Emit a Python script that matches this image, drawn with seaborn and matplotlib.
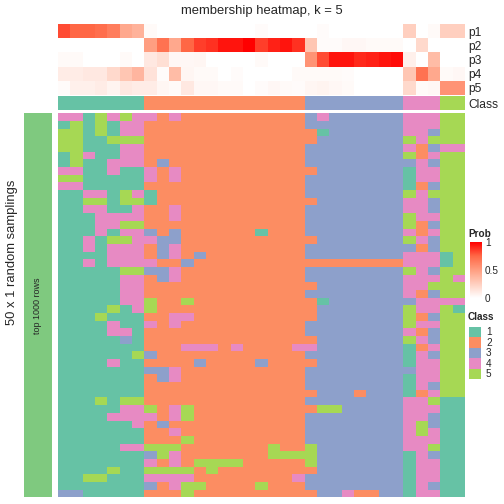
import numpy as np
import pandas as pd
import seaborn as sns
import matplotlib
matplotlib.use("Agg")
import matplotlib.pyplot as plt
from matplotlib.colors import ListedColormap, LinearSegmentedColormap
from matplotlib.patches import Rectangle

# ---------------- data ----------------
prob_labels = ["p1", "p2", "p3", "p4", "p5"]
p1 = [0.82, 0.75, 0.75, 0.72, 0.65, 0.45, 0.40, 0.03, 0, 0, 0, 0, 0, 0, 0, 0, 0.02, 0, 0, 0,
      0, 0.02, 0, 0, 0, 0, 0, 0, 0.25, 0, 0.03, 0.25, 0.25]
p2 = [0, 0, 0, 0, 0, 0, 0, 0.50, 0.70, 0.45, 0.75, 0.85, 0.88, 0.95, 0.95, 1.0, 0.85, 0.92, 0.95, 0.88,
      0.30, 0.02, 0.02, 0.04, 0.04, 0.03, 0.03, 0.03, 0, 0.20, 0, 0, 0]
p3 = [0.03, 0.03, 0, 0, 0, 0.03, 0, 0.12, 0.17, 0.04, 0.04, 0.05, 0, 0, 0, 0, 0.03, 0, 0, 0,
      0.55, 0.82, 0.95, 0.95, 0.90, 0.92, 0.95, 0.97, 0.08, 0, 0.35, 0, 0]
p4 = [0.10, 0.10, 0.12, 0.12, 0.20, 0.30, 0.38, 0.15, 0.02, 0.35, 0.05, 0.03, 0.03, 0, 0.02, 0, 0, 0, 0, 0.03,
      0.03, 0.03, 0.03, 0.02, 0, 0, 0, 0, 0.30, 0.70, 0.45, 0.03, 0.04]
p5 = [0.02, 0.08, 0.08, 0.10, 0.06, 0.12, 0.10, 0.10, 0.05, 0.03, 0.12, 0.04, 0.04, 0.03, 0.03, 0, 0.02, 0.04, 0.03, 0.02,
      0.05, 0.06, 0.04, 0.03, 0, 0, 0, 0, 0.20, 0.03, 0.04, 0.55, 0.55]

class_row = [1] * 7 + [2] * 13 + [3] * 8 + [4] * 3 + [5] * 2

samplings = [
    "4415454424" "22222222" "223433333344455",
    "1515144222" "22222222" "223333333344455",
    "5515144222" "22222222" "222133333344355",
    "5511555222" "22222222" "222333333354555",
    "5511144222" "22222222" "223333333342344",
    "1541144222" "22222222" "223333333352455",
    "1511444232" "22222222" "223333333334355",
    "4411411424" "22222222" "222333333314455",
    "5511111424" "22222222" "223333333314455",
    "4411111222" "22222222" "223333333312355",
    "1144154122" "22222222" "223333333354555",
    "1155155122" "22222222" "222333333344355",
    "1144114224" "22222222" "223333333344355",
    "1114444224" "22222222" "223333333354455",
    "1114455222" "22222222" "223333333352355",
    "1114144323" "22222212" "223333333342455",
    "1141554433" "22222222" "222333333354355",
    "1141444234" "22222222" "223333333332355",
    "1111444234" "23222222" "223333333344415",
    "1141444422" "32222222" "222222222244415",
    "1111155334" "22222222" "223333333354355",
    "1111144234" "22222222" "223333333344454",
    "1111144222" "22222222" "222333333344555",
    "1111144222" "22222222" "223333333342355",
    "1111144522" "52222222" "222133333334444",
    "1111514522" "22222222" "222333333354451",
    "1115111224" "42222222" "222333333352355",
    "1111411424" "22222222" "223333333354455",
    "1111441222" "22222222" "223333333342355",
    "1111131222" "22222222" "222333333354355",
    "1111111222" "44424222" "244333333312455",
    "1111115322" "22222222" "223333333314355",
    "1111411222" "23222232" "222333333314455",
    "1111111334" "22222222" "223333333334455",
    "1111111234" "22222222" "223333333314455",
    "1111111222" "22222222" "223333333314355",
    "1111111222" "22222222" "222333233312455",
    "1115155222" "22222222" "223333333344511",
    "1111144524" "52222222" "222553333344411",
    "1111444424" "52222222" "223333333344311",
    "1111114232" "22222222" "223333333345311",
    "1111111224" "22222222" "223333333345411",
    "1111111222" "52222222" "223333333344411",
    "1111144555" "22222225" "225333333344511",
    "1111111354" "22222225" "555333333314311",
    "1111111424" "25555222" "225333333314411",
    "1111511555" "52522222" "222333333314411",
    "1155111444" "42222222" "243333333314411",
    "1111111324" "55222252" "223333333314311",
    "3311111222" "52222222" "222334223314411",
]

class_names = ["1", "2", "3", "4", "5"]
class_colors = ["#66C2A5", "#FC8D62", "#8DA0CB", "#E78AC3", "#A6D854"]
left_label = "top 1000 rows"
left_color = "#7FC97F"
row_title = "50 x 1 random samplings"
title = "membership heatmap, k = 5"
prob_ticks = [0, 0.5, 1]

# ---------------- build ----------------
sns.set_style("white")
plt.rcParams["font.family"] = ["Liberation Sans", "DejaVu Sans"]

W = H = 504
fig = plt.figure(figsize=(7, 7), dpi=72)


def rect(l, t, w, h):
    return [l / W, 1 - (t + h) / H, w / W, h / H]


prob_df = pd.DataFrame([p1, p2, p3, p4, p5], index=prob_labels)
main_mat = np.array([[int(c) for c in s] for s in samplings])
cls_df = pd.DataFrame([class_row], index=["Class"])

prob_cmap = LinearSegmentedColormap.from_list(
    "prob", [(0, "#FFFFFF"), (0.25, "#FFCFBF"), (0.5, "#FF9E81"), (0.75, "#FF6846"), (1, "#FF0000")])
cls_cmap = ListedColormap(class_colors)

HX, HW = 58, 407
ax_prob = fig.add_axes(rect(HX, 24, HW, 71))
ax_cls = fig.add_axes(rect(HX, 96, HW, 14))
ax_main = fig.add_axes(rect(HX, 113.3, HW, 384))
ax_left = fig.add_axes(rect(24, 113.3, 28, 384))
cax = fig.add_axes(rect(470, 242, 12, 56))

sns.heatmap(prob_df, ax=ax_prob, cmap=prob_cmap, vmin=0, vmax=1, cbar=True, cbar_ax=cax,
            cbar_kws={"ticks": prob_ticks}, xticklabels=False, yticklabels=True)
ax_prob.yaxis.tick_right()
ax_prob.tick_params(axis="y", length=0, pad=3, labelsize=12, labelrotation=0)

sns.heatmap(cls_df, ax=ax_cls, cmap=cls_cmap, vmin=0.5, vmax=5.5, cbar=False,
            xticklabels=False, yticklabels=True)
ax_cls.yaxis.tick_right()
ax_cls.tick_params(axis="y", length=0, pad=3, labelsize=12, labelrotation=0)

sns.heatmap(main_mat, ax=ax_main, cmap=cls_cmap, vmin=0.5, vmax=5.5, cbar=False,
            xticklabels=False, yticklabels=False)

sns.heatmap(np.zeros((1, 1)), ax=ax_left, cmap=ListedColormap([left_color]), cbar=False,
            xticklabels=False, yticklabels=False)
ax_left.text(0.5, 0.5, left_label, rotation=90, ha="center", va="center", fontsize=9,
             transform=ax_left.transAxes)

# colorbar styling
cbar = ax_prob.collections[0].colorbar
cbar.outline.set_visible(False)
cax.yaxis.set_ticks_position("both")
cax.tick_params(axis="y", direction="in", length=2.5, width=0.8, color="white",
                labelsize=10, pad=3, labelleft=False, labelright=True)
cax.set_yticklabels(["0", "0.5", "1"])

# texts
fig.text(262 / W, 1 - 11 / H, title, ha="center", va="center", fontsize=13)
fig.text(12 / W, 1 - 252 / H, row_title, ha="center", va="center", rotation=90, fontsize=13)

# legend
leg = fig.add_axes([0, 0, 1, 1])
leg.set_xlim(0, W)
leg.set_ylim(H, 0)
leg.axis("off")
leg.patch.set_alpha(0)
leg.text(468, 234, "Prob", fontsize=10, fontweight="bold", ha="left", va="center")
leg.text(468, 317, "Class", fontsize=10, fontweight="bold", ha="left", va="center")
for i, (nm, col) in enumerate(zip(class_names, class_colors)):
    y0 = 327 + i * 10.4
    leg.add_patch(Rectangle((469, y0), 12, 10.4, facecolor=col, edgecolor="none"))
    leg.text(486, y0 + 5.4, nm, fontsize=10, ha="left", va="center")

fig.savefig("out.png", dpi=72)
